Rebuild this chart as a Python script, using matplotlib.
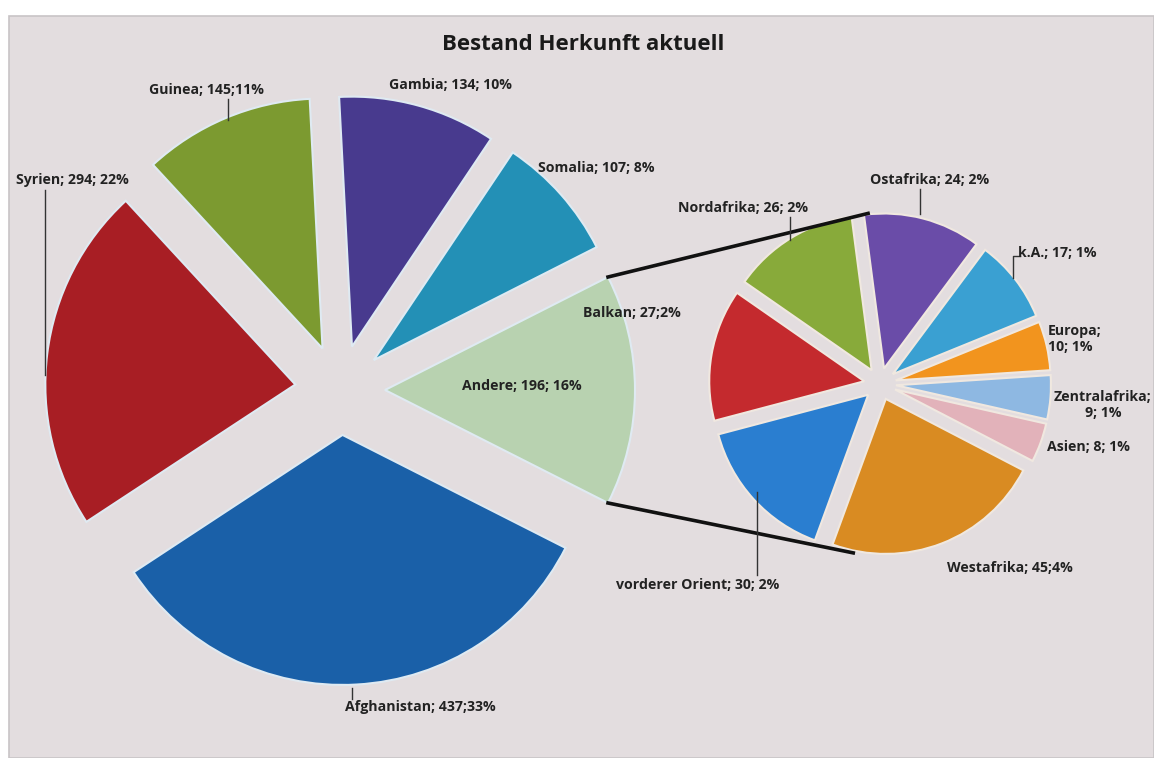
import matplotlib
matplotlib.use("Agg")
import matplotlib.pyplot as plt
import numpy as np

# ---------------- data ----------------
title = "Bestand Herkunft aktuell"

main_labels = ["Andere", "Somalia", "Gambia", "Guinea", "Syrien", "Afghanistan"]
main_values = [196, 107, 134, 145, 294, 437]
main_pct = ["16%", "8%", "10%", "11%", "22%", "33%"]
main_colors = ["#b8d2b0", "#2390b6", "#483a8e", "#7c9a30", "#a81e24", "#1a60a8"]

sub_labels = ["Balkan", "Nordafrika", "Ostafrika", "k.A.", "Europa",
              "Zentralafrika", "Asien", "Westafrika", "vorderer Orient"]
sub_values = [27, 26, 24, 17, 10, 9, 8, 45, 30]
sub_pct = ["2%", "2%", "2%", "1%", "1%", "1%", "1%", "4%", "2%"]
sub_colors = ["#c42a2e", "#88aa3a", "#6a4ca8", "#3aa0d2", "#f2941e",
              "#8eb8e2", "#e2b2ba", "#d98b22", "#2a7ed0"]

# ---------------- figure ----------------
W, H = 1154, 758
fig = plt.figure(figsize=(W / 100, H / 100), dpi=100)
fig.patch.set_facecolor("white")
ax = fig.add_axes([0, 0, 1, 1])

def Y(y):
    return H - y

def fix_axes():
    ax.set_xlim(0, W)
    ax.set_ylim(0, H)
    ax.set_aspect("equal")
    ax.axis("off")

# paper background
ax.add_patch(plt.Rectangle((9, 0), W - 9, H - 16, facecolor="#e3dddf",
                           edgecolor="#c8c4c6", lw=1.2, zorder=0))

FONT = ["Open Sans", "DejaVu Sans"]
lab_kw = dict(fontsize=10.2, fontweight="bold", color="#222222", family=FONT)

# ---------------- main pie ----------------
mc = (340, Y(390))
mr = 250
mexp = 45  # offset in data units (pixels)
wedges_m, _ = ax.pie(main_values, colors=main_colors,
                     startangle=-main_values[0] / sum(main_values) * 180,
                     counterclock=True, center=mc, radius=mr,
                     explode=[mexp] * len(main_values),
                     wedgeprops=dict(edgecolor="#dfeaf2", linewidth=1.5),
                     frame=True)
fix_axes()

# ---------------- secondary pie ----------------
sc = (880, Y(384))
sr = 155
sexp = 16
start = 180 + sub_values[0] / sum(sub_values) * 180 - 10
wedges_s, _ = ax.pie(sub_values, colors=sub_colors, startangle=start,
                     counterclock=False, center=sc, radius=sr,
                     explode=[sexp] * len(sub_values),
                     wedgeprops=dict(edgecolor="#f0e8e0", linewidth=1.5),
                     frame=True)
fix_axes()

# connector lines from Andere wedge corners to secondary pie top/bottom
aw = wedges_m[0]
acx, acy = aw.center
for ang_m, ang_s in [(aw.theta2, 94), (aw.theta1, -99)]:
    x0 = acx + aw.r * np.cos(np.radians(ang_m))
    y0 = acy + aw.r * np.sin(np.radians(ang_m))
    x1 = sc[0] + (sr + sexp) * np.cos(np.radians(ang_s))
    y1 = sc[1] + (sr + sexp) * np.sin(np.radians(ang_s))
    ax.plot([x0, x1], [y0, y1], color="#111111", lw=2.6, zorder=1)

# ---------------- labels ----------------
def txt(label, val, pct, x, y, sep1="; ", sep2="; ", **kw):
    s = f"{label}{sep1}{val}{sep2}{pct}"
    d = dict(lab_kw)
    d.update(kw)
    ax.text(x, Y(y), s, ha=d.pop("ha", "center"), va=d.pop("va", "center"), zorder=5, **d)

mv = dict(zip(main_labels, zip(main_values, main_pct)))
sv = dict(zip(sub_labels, zip(sub_values, sub_pct)))

txt("Guinea", *mv["Guinea"], 206, 90, sep2=";")
txt("Gambia", *mv["Gambia"], 450, 85)
txt("Somalia", *mv["Somalia"], 596, 168)
txt("Syrien", *mv["Syrien"], 72, 180)
txt("Andere", *mv["Andere"], 522, 386)
txt("Afghanistan", *mv["Afghanistan"], 420, 707, sep2=";")

txt("Balkan", *sv["Balkan"], 632, 313, sep2=";")
txt("Nordafrika", *sv["Nordafrika"], 743, 208)
txt("Ostafrika", *sv["Ostafrika"], 930, 180)
txt("k.A.", *sv["k.A."], 1057, 253)
ax.text(1048, Y(339), f"Europa;\n{sv['Europa'][0]}; {sv['Europa'][1]}", ha="left", va="center",
        linespacing=1.15, zorder=5, **lab_kw)
ax.text(1103, Y(405), f"Zentralafrika;\n{sv['Zentralafrika'][0]}; {sv['Zentralafrika'][1]}",
        ha="center", va="center", linespacing=1.15, zorder=5, **lab_kw)
txt("Asien", *sv["Asien"], 1088, 447)
txt("Westafrika", *sv["Westafrika"], 1010, 568, sep2=";")
txt("vorderer Orient", *sv["vorderer Orient"], 698, 585, sep1="; ")

# leader lines
lc = dict(color="#333333", lw=1.0, zorder=4)
ax.plot([228, 228], [Y(99), Y(120)], **lc)          # Guinea
ax.plot([45, 45], [Y(190), Y(375)], **lc)           # Syrien
ax.plot([352, 352], [Y(688), Y(699)], **lc)         # Afghanistan
ax.plot([790, 790], [Y(217), Y(240)], **lc)         # Nordafrika
ax.plot([920, 920], [Y(189), Y(214)], **lc)         # Ostafrika
ax.plot([1020, 1013, 1013], [Y(256), Y(256), Y(278)], **lc)  # k.A.
ax.plot([757, 757], [Y(575), Y(492)], **lc)         # vorderer Orient

# title
ax.text(583, Y(45), title, ha="center", va="center", fontsize=16,
        fontweight="bold", color="#1a1a1a", family=FONT, zorder=5)

fig.savefig("out.png", dpi=100, facecolor=fig.get_facecolor())
